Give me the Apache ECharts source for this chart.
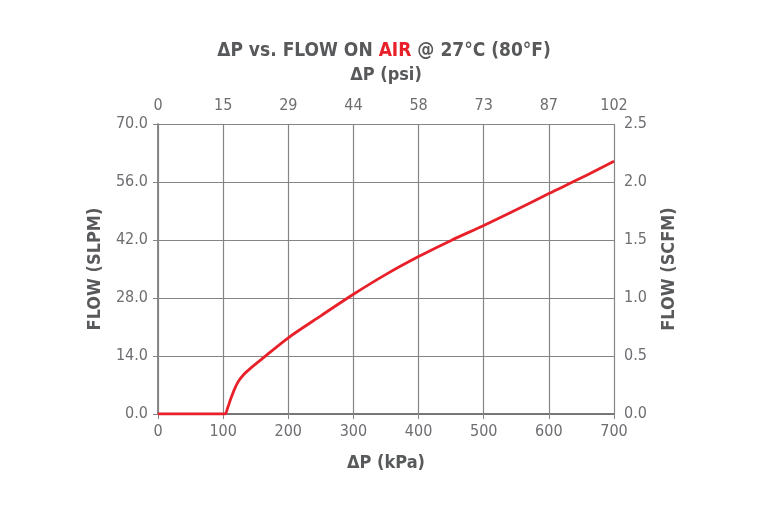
<!DOCTYPE html>
<html>
<head>
<meta charset="UTF-8">
<title>ΔP vs. FLOW ON AIR</title>
<script src="https://cdn.jsdelivr.net/npm/echarts@6/dist/echarts.min.js"></script>
<style>
  html, body { margin: 0; padding: 0; background: #fff; }
  #main { width: 768px; height: 512px; }
</style>
</head>
<body>
<div id="main"></div>
<script>
// pressure drop in kPa vs flow in SLPM
var kpa  = [0, 100, 103, 107, 112, 118, 124, 132, 141, 162, 200, 250, 300, 350, 400, 450, 500, 550, 600, 650, 700];
var slpm = [0, 0, 0, 1.5, 3.8, 6.2, 8.0, 9.6, 10.9, 13.6, 18.4, 23.7, 28.9, 33.7, 38.0, 41.9, 45.5, 49.3, 53.2, 57.0, 61.0];

// top axis labels (psi at each 100 kPa step)
var psiLabels = ['0', '15', '29', '44', '58', '73', '87', '102'];

var textColor = '#58595b';
var labelColor = '#6d6e71';
var lineGray = '#858585';
var fontFam = '"DejaVu Sans Condensed", "Liberation Sans Narrow", "Roboto", sans-serif';

var points = [];
for (var i = 0; i < kpa.length; i++) {
    points.push([kpa[i], slpm[i]]);
}

var myChart = echarts.init(document.getElementById('main'));

var option = {
    backgroundColor: '#fff',
    animation: false,
    title: {
        text: 'ΔP vs. FLOW ON {red|AIR} @ 27°C (80°F)',
        left: 'center',
        top: 37,
        textStyle: {
            fontFamily: fontFam,
            fontSize: 19,
            fontWeight: 'bold',
            color: textColor,
            rich: {
                red: { fontFamily: fontFam, fontSize: 19, fontWeight: 'bold', color: '#e8202a' }
            }
        }
    },
    grid: {
        left: 158,
        right: 154,
        top: 124,
        bottom: 98
    },
    xAxis: [
        {
            type: 'value',
            position: 'bottom',
            min: 0,
            max: 700,
            interval: 100,
            name: 'ΔP (kPa)',
            nameLocation: 'middle',
            nameGap: 40,
            nameTextStyle: { fontFamily: fontFam, fontSize: 18, fontWeight: 'bold', color: textColor },
            axisLine: { show: true, lineStyle: { color: lineGray, width: 1.5 } },
            axisTick: { show: true, length: 5, lineStyle: { color: lineGray } },
            axisLabel: { fontFamily: fontFam, fontSize: 16, color: labelColor, margin: 10 },
            splitLine: { show: true, lineStyle: { color: lineGray, width: 1.2 } }
        },
        {
            type: 'value',
            position: 'top',
            min: 0,
            max: 700,
            interval: 100,
            name: 'ΔP (psi)',
            nameLocation: 'middle',
            nameGap: 40,
            nameTextStyle: { fontFamily: fontFam, fontSize: 18, fontWeight: 'bold', color: textColor },
            axisLine: { show: true, lineStyle: { color: '#6d6e71', width: 1.5 } },
            axisTick: { show: true, length: 5, lineStyle: { color: lineGray } },
            axisLabel: {
                fontFamily: fontFam, fontSize: 16, color: labelColor, margin: 10,
                formatter: function (v) { return psiLabels[Math.round(v / 100)]; }
            },
            splitLine: { show: false }
        }
    ],
    yAxis: [
        {
            type: 'value',
            position: 'left',
            min: 0,
            max: 70,
            interval: 14,
            name: 'FLOW (SLPM)',
            nameLocation: 'middle',
            nameGap: 54,
            nameRotate: 90,
            nameTextStyle: { fontFamily: fontFam, fontSize: 18, fontWeight: 'bold', color: textColor },
            axisLine: { show: true, lineStyle: { color: lineGray, width: 1.5 } },
            axisTick: { show: true, length: 5, lineStyle: { color: lineGray } },
            axisLabel: {
                fontFamily: fontFam, fontSize: 16, color: labelColor, margin: 10,
                formatter: function (v) { return v.toFixed(1); }
            },
            splitLine: { show: true, lineStyle: { color: lineGray, width: 1.2 } }
        },
        {
            type: 'value',
            position: 'right',
            min: 0,
            max: 2.5,
            interval: 0.5,
            name: 'FLOW (SCFM)',
            nameLocation: 'middle',
            nameGap: 46,
            nameRotate: 90,
            nameTextStyle: { fontFamily: fontFam, fontSize: 18, fontWeight: 'bold', color: textColor },
            axisLine: { show: true, lineStyle: { color: lineGray, width: 1.5 } },
            axisTick: { show: true, length: 5, lineStyle: { color: lineGray } },
            axisLabel: {
                fontFamily: fontFam, fontSize: 16, color: labelColor, margin: 10,
                formatter: function (v) { return v.toFixed(1); }
            },
            splitLine: { show: false }
        }
    ],
    series: [
        {
            type: 'line',
            xAxisIndex: 0,
            yAxisIndex: 0,
            data: points,
            smooth: 0.3,
            symbol: 'none',
            lineStyle: { color: '#e8202a', width: 2.8 }
        }
    ]
};

myChart.setOption(option);
</script>
</body>
</html>
